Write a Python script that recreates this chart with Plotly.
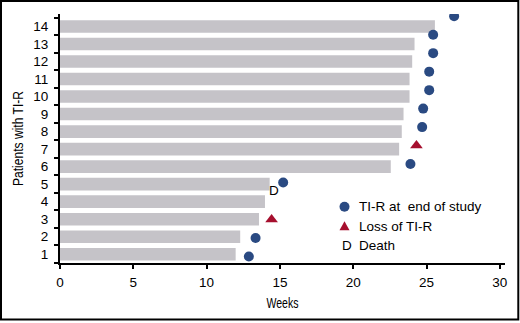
import plotly.graph_objects as go

# ---------------- data ----------------
patients = list(range(1, 15))
bar_weeks = [11.98, 12.29, 13.57, 13.98, 14.30, 22.56, 23.13, 23.31, 23.43, 23.84, 23.84, 24.02, 24.18, 25.57]

tir_patients = [1, 2, 5, 6, 8, 9, 10, 11, 12, 13, 14]
tir_weeks = [12.88, 13.34, 15.22, 23.90, 24.70, 24.77, 25.18, 25.18, 25.45, 25.45, 26.88]

loss_patients = [3, 7]
loss_weeks = [14.43, 24.31]

death_patients = [5]
death_weeks = [15.22]

x_ticks = [0, 5, 10, 15, 20, 25, 30]
y_ticks = patients
y_boundaries = [p - 0.5 for p in patients] + [14.5]

legend_labels = ["TI-R at  end of study", "Loss of TI-R", "Death"]

BLUE = "#2A4A82"
RED = "#A60F2E"
GRAY = "#C5C3C8"
FONT = "Liberation Sans, Arial, sans-serif"
FS = 13.5

W, H = 520, 323
ML, MR, MT, MB = 60, 15, 14, 60
PW, PH = W - ML - MR, H - MT - MB


def px_x(p):
    return (p - ML) / PW


def px_y(p):
    return (H - MB - p) / PH


fig = go.Figure()
fig.add_trace(go.Bar(
    y=patients, x=bar_weeks, orientation="h", width=0.72,
    marker=dict(color=GRAY, line=dict(width=0)), showlegend=False,
    hoverinfo="x+y",
))
fig.add_trace(go.Scatter(
    x=tir_weeks, y=tir_patients, yaxis="y2", mode="markers",
    marker=dict(symbol="circle", size=10, color=BLUE), showlegend=False,
))
fig.add_trace(go.Scatter(
    x=loss_weeks, y=loss_patients, yaxis="y2", mode="markers",
    marker=dict(symbol="triangle-up", size=11, color=RED), showlegend=False,
))

annotations = []
for w, p in zip(death_weeks, death_patients):
    annotations.append(dict(
        x=w, y=p, xref="x", yref="y2", text="D", showarrow=False,
        xshift=-9, yshift=-8, font=dict(family=FONT, size=FS, color="black"),
    ))

# legend (drawn in paper space)
leg_marker_x = 344.5
leg_text_x = 356.5
leg_rows = [206.7, 226.2, 245.0]
shapes = [
    dict(type="circle", xref="paper", yref="paper", xsizemode="pixel", ysizemode="pixel",
         xanchor=px_x(leg_marker_x), yanchor=px_y(leg_rows[0]),
         x0=-5, x1=5, y0=-5, y1=5, fillcolor=BLUE, line=dict(width=0)),
    dict(type="path", xref="paper", yref="paper", xsizemode="pixel", ysizemode="pixel",
         xanchor=px_x(leg_marker_x), yanchor=px_y(leg_rows[1]),
         path="M -5,-4 L 5,-4 L 0,5 Z", fillcolor=RED, line=dict(width=0)),
    # outer frame
    dict(type="rect", xref="paper", yref="paper",
         x0=px_x(1), x1=px_x(518.3), y0=px_y(319.5), y1=px_y(1),
         line=dict(color="black", width=2), fillcolor="rgba(0,0,0,0)", layer="above"),
]
annotations.append(dict(
    x=px_x(leg_marker_x + 2.5), y=px_y(leg_rows[2]), xref="paper", yref="paper",
    text="D", showarrow=False, xanchor="center", yanchor="middle",
    font=dict(family=FONT, size=FS, color="black"),
))
for lab, row in zip(legend_labels, leg_rows):
    annotations.append(dict(
        x=px_x(leg_text_x), y=px_y(row), xref="paper", yref="paper",
        text=lab.replace("  ", "&nbsp; "), showarrow=False, xanchor="left", yanchor="middle",
        font=dict(family=FONT, size=FS, color="black"),
    ))

fig.update_layout(
    width=W, height=H,
    margin=dict(l=ML, r=MR, t=MT, b=MB, autoexpand=False),
    paper_bgcolor="white", plot_bgcolor="white",
    showlegend=False,
    shapes=shapes,
    annotations=annotations,
    xaxis=dict(
        range=[0, 30.35], tickvals=x_ticks, showgrid=False, zeroline=False,
        automargin=False,
        showline=True, linecolor="black", linewidth=2,
        ticks="outside", ticklen=4, tickwidth=2, tickcolor="black",
        ticklabelstandoff=2,
        tickfont=dict(family=FONT, size=FS, color="black"),
        title=dict(text="Weeks", standoff=8,
                   font=dict(family=FONT, size=15, color="black")),
    ),
    yaxis=dict(
        range=[0.5, 14.71], tickvals=y_ticks, showgrid=False, zeroline=False,
        automargin=False,
        showline=True, linecolor="black", linewidth=2,
        ticks="outside", ticklen=7, tickcolor="rgba(0,0,0,0)",
        tickfont=dict(family=FONT, size=FS, color="black"),
        minor=dict(tickvals=y_boundaries, ticks="outside", ticklen=4, tickwidth=2,
                   tickcolor="black", showgrid=False),
        title=dict(text="Patients with TI-R", standoff=6,
                   font=dict(family=FONT, size=15, color="black")),
    ),
    yaxis2=dict(
        overlaying="y", range=[(0.5 + 0.185) / 1.055, (14.71 + 0.185) / 1.055],
        visible=False, showgrid=False, zeroline=False,
    ),
)

post = """
document.body.style.margin='0';document.body.style.padding='0';
var gd=document.getElementById('{plot_id}');
function condense(){
  var xt=gd.querySelector('.g-xtitle text');
  if(xt){xt.setAttribute('textLength','32');xt.setAttribute('lengthAdjust','spacingAndGlyphs');}
  var yt=gd.querySelector('.g-ytitle text');
  if(yt){yt.setAttribute('textLength','95');yt.setAttribute('lengthAdjust','spacingAndGlyphs');}
}
condense();
gd.on('plotly_afterplot', condense);
"""

fig.write_html("out.html", config={"displayModeBar": False}, post_script=post)
